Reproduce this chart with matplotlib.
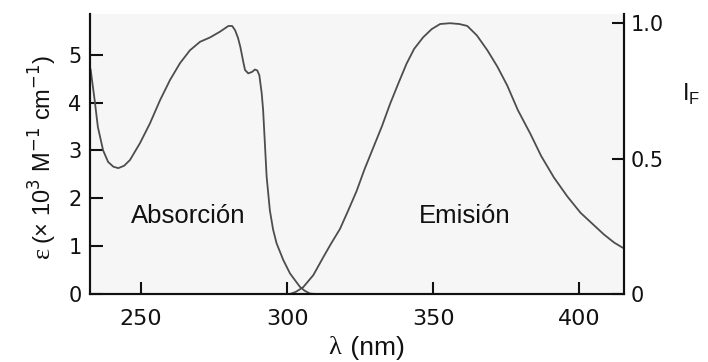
import matplotlib
matplotlib.use("Agg")
import matplotlib.pyplot as plt

# Absorption spectrum: wavelength (nm) vs molar absorptivity (x10^3 M^-1 cm^-1)
abs_wl = [232.7, 234.1, 235.2, 237.0, 238.7, 240.5, 242.2, 244.2, 246.2, 249.6,
          253.0, 256.5, 259.9, 263.3, 266.7, 270.2, 273.6, 277.0, 279.9, 281.2,
          282.2, 283.2, 284.0, 285.0, 285.6, 286.7, 288.0, 289.0, 289.8, 290.5,
          291.3, 291.8, 292.1, 293.0, 294.1, 295.2, 296.4, 298.7, 301.0, 304.4,
          306.0, 307.8, 310.0]
abs_eps = [4.70, 4.05, 3.49, 3.00, 2.76, 2.66, 2.63, 2.68, 2.80, 3.15,
           3.56, 4.05, 4.47, 4.82, 5.09, 5.27, 5.36, 5.48, 5.60, 5.60,
           5.51, 5.35, 5.16, 4.85, 4.68, 4.61, 4.64, 4.69, 4.67, 4.57,
           4.20, 3.84, 3.49, 2.45, 1.75, 1.35, 1.06, 0.71, 0.43, 0.15,
           0.07, 0.01, 0.0]

# Emission spectrum: wavelength (nm) vs normalised fluorescence intensity
em_wl = [301.0, 303.0, 305.5, 309.0, 312.4, 315.0, 318.1, 321.0, 323.8, 326.5,
         329.5, 332.5, 335.2, 338.0, 340.9, 343.5, 346.6, 349.5, 352.4, 355.8,
         359.0, 361.7, 365.0, 368.6, 372.0, 375.4, 379.0, 383.4, 387.0, 391.4,
         396.0, 400.5, 404.5, 408.5, 412.0, 415.1]
em_int = [0.0, 0.008, 0.025, 0.07, 0.136, 0.185, 0.24, 0.31, 0.38, 0.46,
          0.54, 0.62, 0.70, 0.775, 0.85, 0.905, 0.948, 0.978, 0.997, 1.0,
          0.997, 0.99, 0.955, 0.90, 0.84, 0.77, 0.68, 0.59, 0.51, 0.43,
          0.36, 0.30, 0.26, 0.22, 0.19, 0.17]

x_ticks = [250, 300, 350, 400]
left_ticks = [0, 1, 2, 3, 4, 5]
right_ticks = [0, 0.5, 1.0]
right_tick_labels = ["0", "0.5", "1.0"]

line_color = "#4d4d4d"
spine_color = "#111111"

fig = plt.figure(figsize=(7.08, 3.62), dpi=100)
ax = fig.add_axes([0.1271, 0.1878, 0.7543, 0.7735])
ax.set_facecolor("#f6f6f6")

ax.plot(abs_wl, abs_eps, color=line_color, lw=1.3, solid_capstyle="round")
ax.set_xlim(232.5, 415.4)
ax.set_ylim(0, 5.85)

ax2 = ax.twinx()
ax2.plot(em_wl, em_int, color=line_color, lw=1.3, solid_capstyle="round")
ax2.set_ylim(0, 1.034)

for a in (ax, ax2):
    a.spines["top"].set_visible(False)
    for s in ("left", "right", "bottom"):
        a.spines[s].set_linewidth(1.5)
        a.spines[s].set_color(spine_color)

ax.set_xticks(x_ticks)
ax.set_yticks(left_ticks)
ax.tick_params(axis="x", direction="in", length=9, width=1.5, pad=11,
               labelsize=16, colors=spine_color)
ax.tick_params(axis="y", direction="in", length=9, width=1.5, pad=6,
               labelsize=15, colors=spine_color)

ax2.set_yticks(right_ticks)
ax2.set_yticklabels(right_tick_labels)
ax2.tick_params(axis="y", direction="in", length=9, width=1.5, pad=5,
                labelsize=15, colors=spine_color)

# Band labels
ax.text(246.5, 1.48, "Absorción", fontsize=18.5, family="Liberation Sans",
        ha="left", va="baseline", color="#111111")
ax.text(345.2, 1.48, "Emisión", fontsize=18.5, family="Liberation Sans",
        ha="left", va="baseline", color="#111111")

# Axis titles
fig.text(0.482, 0.038, "λ", fontsize=19, family="Liberation Serif",
         ha="right", va="center", color="#111111")
fig.text(0.485, 0.038, " (nm)", fontsize=19, family="Liberation Sans",
         ha="left", va="center", color="#111111")

fig.text(0.061, 0.318, "ε", fontsize=19, family="Liberation Serif",
         rotation=90, ha="center", va="top", color="#111111")
fig.text(0.061, 0.325, r"(× 10$^{3}$ M$^{-1}$ cm$^{-1}$)", fontsize=17,
         family="Liberation Sans", rotation=90, ha="center", va="bottom",
         color="#111111")

fig.text(0.976, 0.74, r"I$_{\mathregular{F}}$", fontsize=17,
         family="Liberation Sans", ha="center", va="center", color="#111111")

plt.rcParams["mathtext.fontset"] = "custom"
fig.savefig("out.png", dpi=100, facecolor="white")
